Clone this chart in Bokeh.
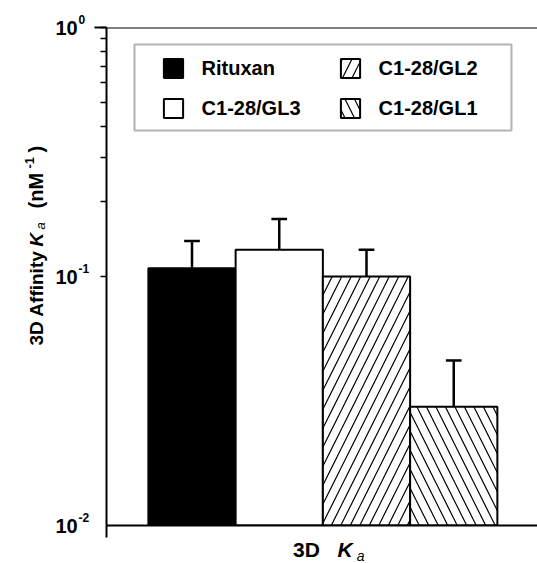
import numpy as np
from bokeh.plotting import figure
from bokeh.layouts import row, column
from bokeh.models import (ColumnDataSource, Legend, LegendItem, Span, Range1d, LogScale, Div,
                          BoxAnnotation, FixedTicker, LogTicker, CustomJSTickFormatter)
from bokeh.core.properties import value
from bokeh.embed import file_html
from bokeh.resources import INLINE

# ---- data ----
categories = ["Rituxan", "C1-28/GL3", "C1-28/GL2", "C1-28/GL1"]
ka_mean = [0.108, 0.128, 0.100, 0.030]
ka_upper = [0.139, 0.170, 0.128, 0.046]
fills = ["black", "white", "white", "white"]
hatches = [" ", " ", "/", "\\"]
y_ticks = [1.0, 0.1, 0.01]
y_tick_exp = ["0", "-1", "-2"]
x_title = ("3D", "K", "a")

FONT = "Liberation Sans"
W, H = 537, 563
LEFT_W = 94          # width of the left text strip
FRAME_TOP, FRAME_BOTTOM = 27, 525
BOTTOM_H = 25
xpos = [1, 2, 3, 4]
x_start, x_end = 0.02, 4.96
cap_half = 0.09
y_min, y_max = 0.01, 1.0

# ---------------- main chart ----------------
src = ColumnDataSource(dict(x=xpos, top=ka_mean, upper=ka_upper, fill=fills,
                            hatch=hatches, name=categories,
                            cx0=[v - cap_half for v in xpos],
                            cx1=[v + cap_half for v in xpos]))

main_h = H - BOTTOM_H
p = figure(width=W - LEFT_W, height=main_h, x_range=(x_start, x_end),
           y_range=(y_min, y_max), y_axis_type="log", output_backend="svg",
           toolbar_location=None, title=None, min_border_left=12, min_border_right=0,
           min_border_top=FRAME_TOP, min_border_bottom=main_h - FRAME_BOTTOM)
p.outline_line_color = None
p.grid.visible = False
p.background_fill_color = "white"
p.border_fill_color = "white"

p.segment(x0="x", y0="top", x1="x", y1="upper", source=src, line_color="black", line_width=2.5)
p.segment(x0="cx0", y0="upper", x1="cx1", y1="upper", source=src, line_color="black", line_width=2.5)
r = p.vbar(x="x", width=1, bottom=y_min, top="top", source=src, fill_color="fill",
           line_color="black", line_width=2, hatch_pattern="hatch", hatch_color="black",
           hatch_scale=19, hatch_weight=1.2)

blank = CustomJSTickFormatter(code="return ''")
p.yaxis.ticker = LogTicker(mantissas=[1], desired_num_ticks=3, num_minor_ticks=10)
p.xaxis.ticker = FixedTicker(ticks=[x_start])
for ax in list(p.yaxis) + list(p.xaxis):
    ax.axis_line_width = 2
    ax.major_tick_line_width = 2
    ax.minor_tick_line_width = 1.5
    ax.major_tick_out = 12
    ax.major_tick_in = 0
    ax.minor_tick_in = 0
    ax.formatter = blank
    ax.major_label_standoff = 0
    ax.major_label_text_font_size = "1px"
for ax in p.yaxis:
    ax.minor_tick_out = 6
for ax in p.xaxis:
    ax.minor_tick_out = 0

p.add_layout(Span(location=y_max, dimension="width", line_color="black", line_width=2))

items = [LegendItem(label=categories[i], renderers=[r], index=i) for i in range(4)]
legend = Legend(items=items, location=(54.6, 405), orientation="vertical", ncols=2,
                glyph_width=24, glyph_height=24, label_standoff=17, label_width=120,
                label_height=24, spacing=16, padding=0, margin=0,
                border_line_color=None, background_fill_alpha=0,
                label_text_font=FONT, label_text_font_style="bold",
                label_text_font_size="20px", label_text_color="black")
p.add_layout(legend)
p.add_layout(BoxAnnotation(left=28, right=405, top=481, bottom=395,
                           left_units="screen", right_units="screen",
                           top_units="screen", bottom_units="screen",
                           fill_color=None, line_color="black", line_width=2))

# ---------------- left strip: tick labels and y title ----------------
dec_px = (FRAME_BOTTOM - FRAME_TOP) / (np.log10(y_max) - np.log10(y_min))
lo = 10 ** (np.log10(y_min) - (H - FRAME_BOTTOM) / dec_px)
hi = 10 ** (np.log10(y_max) + FRAME_TOP / dec_px)
lf = figure(width=LEFT_W, height=H, x_range=(0, LEFT_W), y_range=(0, H),
            output_backend="svg", toolbar_location=None, title=None,
            x_axis_location=None, y_axis_location=None,
            min_border_left=0, min_border_right=0, min_border_top=0, min_border_bottom=0)
lf.extra_y_ranges = {"log": Range1d(lo, hi)}
lf.extra_y_scales = {"log": LogScale()}
lf.outline_line_color = None
lf.grid.visible = False

lf.text(x=[55] * len(y_ticks), y=y_ticks, text=["10"] * len(y_ticks), y_range_name="log",
        text_font=value(FONT), text_font_size="20px", text_font_style="bold",
        text_baseline="middle", text_align="left", text_color="black")
lf.text(x=[78] * len(y_ticks), y=y_ticks, text=y_tick_exp, y_range_name="log", y_offset=-8,
        text_font=value(FONT), text_font_size="12px", text_font_style="bold",
        text_baseline="middle", text_align="left", text_color="black")

# y title pieces, text runs upward; positions in strip pixels (y from bottom)
ylab_text = ["3D Affinity", "K", "a", "(nM", "-1", ")"]
ylab_y = [H - 345, H - 246, H - 229, H - 208, H - 168, H - 152]
ylab_x = [35.5, 35.5, 40, 35.5, 29, 35.5]
ylab_size = ["19px", "19px", "13px", "20px", "13px", "20px"]
ylab_style = ["bold", "bold italic", "italic", "bold", "bold", "bold"]
lsrc = ColumnDataSource(dict(x=ylab_x, y=ylab_y, t=ylab_text, s=ylab_size, st=ylab_style))
lf.text(x="x", y="y", text="t", source=lsrc, angle=np.pi / 2, text_font=value(FONT),
        text_font_size="s", text_font_style="st", text_baseline="middle",
        text_align="left", text_color="black")

# ---------------- bottom strip: x title ----------------
bw = W - LEFT_W
xhtml = (f'<div style="margin:0;padding:0 0 0 {293 - LEFT_W}px;font-family:\'{FONT}\';'
         f'font-weight:bold;font-size:21px;line-height:24px;color:black;white-space:nowrap;">'
         f'{x_title[0]}&nbsp;&nbsp;<i style="margin-left:6px;">{x_title[1]}</i>'
         f'<span style="font-size:14px;font-style:italic;font-weight:normal;'
         f'position:relative;top:4px;margin-left:4px;">{x_title[2]}</span></div>')
bf = Div(text=xhtml, width=bw, height=BOTTOM_H, margin=0)

layout = row(lf, column(p, bf, spacing=0), spacing=0)
open("out.html", "w").write(file_html(layout, INLINE))
